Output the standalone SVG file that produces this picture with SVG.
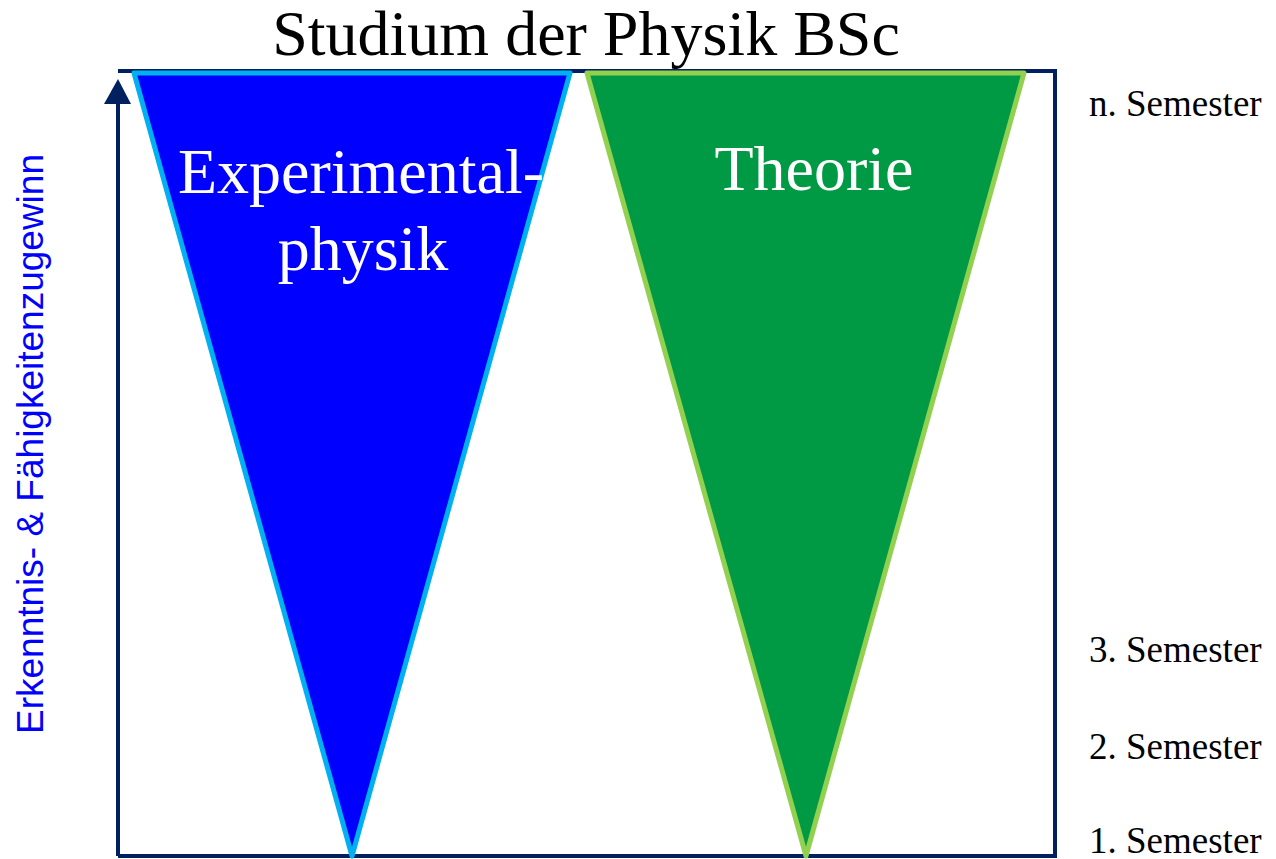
<svg xmlns="http://www.w3.org/2000/svg" width="1276" height="859" viewBox="0 0 1276 859">
<style>
.serif{font-family:"Liberation Serif","Times New Roman",serif}
.sem{font-size:37px;fill:#000}
.big{font-size:64px;fill:#fff;text-anchor:middle}
</style>
<rect width="1276" height="859" fill="#fff"/>
<text class="serif" x="586" y="55" font-size="64" text-anchor="middle" fill="#000">Studium der Physik BSc</text>
<g id="frame">
<polyline points="118,856 1055,856 1055,71 118,71" fill="none" stroke="#002060" stroke-width="4"/>
</g>
<g id="connectors">
<line x1="118" y1="856" x2="118" y2="100" stroke="#002060" stroke-width="4"/>
<path d="M104,104 L118,79 L131,104 z" fill="#002060"/>
</g>
<g id="experimental">
<polygon points="134,73 570,73 352,856" fill="#0000FF" stroke="#00B0F0" stroke-width="5" stroke-linejoin="round"/>
<text class="serif big" x="361" y="193">Experimental-</text>
<text class="serif big" x="363" y="270">physik</text>
</g>
<g id="theorie">
<polygon points="587,73 1024,73 806,856" fill="#009A44" stroke="#92D050" stroke-width="5" stroke-linejoin="round"/>
<text class="serif big" x="814" y="190">Theorie</text>
</g>
<g id="semesters">
<text class="serif sem" x="1089" y="116">n. Semester</text>
<text class="serif sem" x="1089" y="662">3. Semester</text>
<text class="serif sem" x="1089" y="759">2. Semester</text>
<text class="serif sem" x="1089" y="853">1. Semester</text>
</g>
<g id="yaxis-label">
<text transform="translate(43,444) rotate(-90)" font-family="Liberation Sans, Arial, sans-serif" font-size="37" fill="#0000FF" text-anchor="middle">Erkenntnis- &amp; Fähigkeitenzugewinn</text>
</g>
</svg>
